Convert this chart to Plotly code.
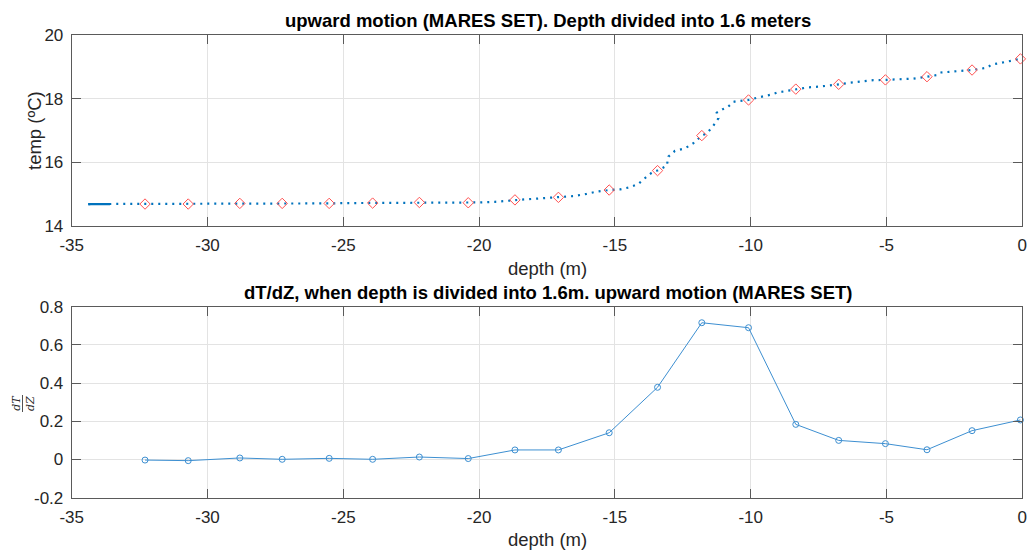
import plotly.graph_objects as go

# ---- data ----
raw_depth = [-34.39, -33.59, -33.2, -32.30, -31.9, -31.3, -30.71, -30.03, -29.4, -28.81,
             -28.2, -27.25, -26.6, -25.52, -24.8, -23.92, -23.1, -22.20, -21.81, -20.40,
             -19.97, -19.41, -19.05, -18.68, -18.25, -17.70, -17.08, -16.53, -16.04, -15.67,
             -15.21, -14.81, -14.44, -14.14, -13.83, -13.65, -13.44, -13.09, -13.03, -12.79,
             -12.42, -12.11, -11.80, -11.62, -11.40, -11.28, -11.19, -11.25, -11.03, -10.85,
             -10.64, -10.52, -10.08, -9.72, -9.23, -9.04, -8.67, -8.34, -7.94, -7.45,
             -7.02, -6.76, -6.34, -5.85, -5.49, -5.04, -4.50, -4.01, -3.51, -3.15,
             -3.03, -2.54, -1.85, -1.31, -1.13, -0.76, -0.39, -0.07]
raw_temp = [14.69, 14.69, 14.69, 14.69, 14.69, 14.69, 14.69, 14.70, 14.70, 14.71,
            14.71, 14.71, 14.71, 14.71, 14.72, 14.72, 14.73, 14.74, 14.73, 14.73,
            14.74, 14.76, 14.79, 14.82, 14.84, 14.87, 14.90, 14.94, 15.01, 15.08,
            15.13, 15.15, 15.22, 15.32, 15.55, 15.67, 15.74, 15.89, 16.18, 16.36,
            16.44, 16.60, 16.84, 16.91, 17.12, 17.26, 17.38, 17.56, 17.67, 17.73,
            17.90, 17.92, 17.96, 18.04, 18.13, 18.19, 18.24, 18.30, 18.35, 18.38,
            18.41, 18.45, 18.50, 18.55, 18.58, 18.59, 18.62, 18.63, 18.69, 18.74,
            18.82, 18.85, 18.90, 18.97, 19.07, 19.13, 19.19, 19.25]

# densely sampled start of the profile (drawn as a solid stroke)
dense_depth = [-34.39, -33.59]
dense_temp = [14.69, 14.69]

# 1.6 m bins
bin_depth = [-32.30, -30.71, -28.81, -27.25, -25.52, -23.92, -22.20, -20.40, -18.68, -17.08,
             -15.21, -13.43, -11.80, -10.08, -8.34, -6.76, -5.04, -3.51, -1.85, -0.07]
bin_temp = [14.69, 14.69, 14.71, 14.71, 14.71, 14.72, 14.74, 14.73, 14.82, 14.90,
            15.13, 15.74, 16.84, 17.96, 18.30, 18.45, 18.59, 18.69, 18.90, 19.25]
dTdZ = [-0.003, -0.006, 0.008, 0.001, 0.006, 0.001, 0.013, 0.005, 0.050, 0.050,
        0.140, 0.378, 0.716, 0.690, 0.184, 0.100, 0.083, 0.051, 0.151, 0.207]

x_ticks = [-35, -30, -25, -20, -15, -10, -5, 0]
x_ticktext = ["-35", "-30", "-25", "-20", "-15", "-10", "-5", "0"]
top_y_ticks = [14, 16, 18, 20]
bot_y_ticks = [-0.2, 0, 0.2, 0.4, 0.6, 0.8]
bot_y_ticktext = ["-0.2", "0", "0.2", "0.4", "0.6", "0.8"]

title_top = "upward motion (MARES SET). Depth divided into 1.6 meters"
title_bot = "dT/dZ, when depth is divided into 1.6m. upward motion (MARES SET)"

BLUE = "#0072BD"
FONT = "Arial, 'Liberation Sans', Helvetica, sans-serif"
W, H = 1032, 552

fig = go.Figure()
fig.add_trace(go.Scatter(x=raw_depth, y=raw_temp, mode="lines",
                         line=dict(color=BLUE, width=2.2, dash="2px,5px"),
                         xaxis="x", yaxis="y", showlegend=False))
fig.add_trace(go.Scatter(x=dense_depth, y=dense_temp, mode="lines",
                         line=dict(color=BLUE, width=2.2),
                         xaxis="x", yaxis="y", showlegend=False))
fig.add_trace(go.Scatter(x=bin_depth, y=bin_temp, mode="markers", cliponaxis=False,
                         marker=dict(symbol="diamond-open", size=8, color="#ff5050",
                                     line=dict(width=1, color="#ff5050")),
                         xaxis="x", yaxis="y", showlegend=False))
fig.add_trace(go.Scatter(x=bin_depth, y=dTdZ, mode="lines+markers", cliponaxis=False,
                         line=dict(color="#3d8fd1", width=1),
                         marker=dict(symbol="circle-open", size=6, color="#3d8fd1",
                                     line=dict(width=1, color="#3d8fd1")),
                         xaxis="x2", yaxis="y2", showlegend=False))

x0, x1 = 71.7 / W, 1022.3 / W
top_dom = [(H - 226) / H, (H - 35) / H]
bot_dom = [(H - 497.7) / H, (H - 306.7) / H]

axis_common = dict(showline=True, linecolor="#5a5a5a", linewidth=1, mirror="ticks",
                   ticks="inside", ticklen=9, tickcolor="#5a5a5a", showgrid=True,
                   gridcolor="#e3e3e3", gridwidth=1, zeroline=False, automargin=False,
                   tickfont=dict(family=FONT, size=17, color="#262626"),
                   ticklabelstandoff=4)

fig.update_layout(
    width=W, height=H, margin=dict(l=0, r=0, t=0, b=0, autoexpand=False),
    paper_bgcolor="white", plot_bgcolor="white",
    xaxis=dict(domain=[x0, x1], range=[-35, 0], tickvals=x_ticks, ticktext=x_ticktext,
               anchor="y", **axis_common),
    yaxis=dict(domain=top_dom, range=[14, 20], tickvals=top_y_ticks, anchor="x", **axis_common),
    xaxis2=dict(domain=[x0, x1], range=[-35, 0], tickvals=x_ticks, ticktext=x_ticktext,
                anchor="y2", **axis_common),
    yaxis2=dict(domain=bot_dom, range=[-0.2, 0.8], tickvals=bot_y_ticks,
                ticktext=bot_y_ticktext, anchor="x2", **axis_common),
)

def ann(text, x, y, size, bold=False, angle=0, color="black", family=FONT):
    fig.add_annotation(text=f"<b>{text}</b>" if bold else text, x=x / W, y=(H - y) / H,
                       xref="paper", yref="paper", showarrow=False, textangle=angle,
                       xanchor="center", yanchor="middle",
                       font=dict(family=family, size=size, color=color))

ann(title_top, 548, 20, 18.5, bold=True)
ann(title_bot, 548, 292, 18.5, bold=True)
ann("depth (m)", 547, 268, 18.5, color="#262626")
ann("depth (m)", 547, 539, 18.5, color="#262626")
ann("temp (ºC)", 34, 131, 18.5, angle=-90, color="#262626")
ann("<i>dT</i><br><i>dZ</i>", 23, 403, 11, angle=-90, color="#262626",
    family="'DejaVu Serif', 'Liberation Serif', serif")
fig.add_shape(type="line", xref="paper", yref="paper",
              x0=22.5 / W, x1=22.5 / W, y0=(H - 395) / H, y1=(H - 412) / H,
              line=dict(color="#262626", width=0.8))

fig.write_html("out.html")
